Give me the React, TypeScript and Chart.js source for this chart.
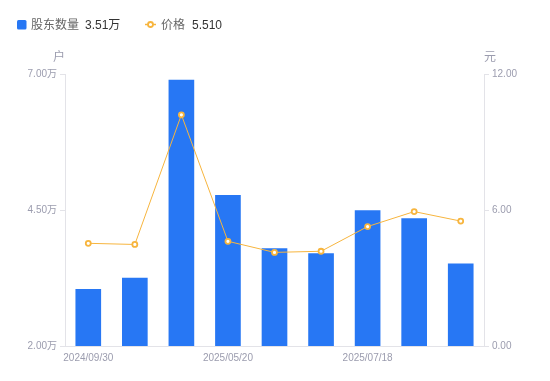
import React, { useEffect, useRef } from "react";
import { Chart, registerables } from "chart.js";

Chart.register(...registerables);

const categories = [
  "2024/09/30",
  "2024/12/31",
  "2025/03/31",
  "2025/05/20",
  "2025/06/10",
  "2025/06/30",
  "2025/07/18",
  "2025/08/10",
  "2025/08/31",
];
const holders = [3.04, 3.25, 6.89, 4.77, 3.79, 3.7, 4.49, 4.34, 3.51];
const prices = [4.53, 4.48, 10.2, 4.62, 4.13, 4.18, 5.27, 5.93, 5.51];
const leftTicks = [2, 4.5, 7];
const rightTicks = [0, 6, 12];

const FONT = '"Liberation Sans", "Noto Sans CJK SC", sans-serif';
const BLUE = "#2777F4";
const ORANGE = "#F7B53E";
const TICK_COLOR = "#9b9cae";
const AXIS_COLOR = "#e3e3e8";

const overlay = {
  id: "overlay",
  afterDraw(chart: any) {
    const ctx = chart.ctx;
    ctx.save();
    ctx.textBaseline = "middle";
    ctx.textAlign = "left";
    ctx.font = `12px ${FONT}`;
    const y = 24.5;
    const ty = 25.5;
    ctx.fillStyle = BLUE;
    ctx.beginPath();
    (ctx as any).roundRect ? (ctx as any).roundRect(17, 20, 9.5, 9.5, 1.5) : ctx.rect(17, 20, 9.5, 9.5);
    ctx.fill();
    ctx.fillStyle = "#666";
    ctx.fillText("股东数量", 31, ty);
    ctx.fillStyle = "#333";
    ctx.fillText(holders[holders.length - 1].toFixed(2) + "万", 85, ty);
    ctx.strokeStyle = ORANGE;
    ctx.lineWidth = 1.5;
    ctx.beginPath();
    ctx.moveTo(145, y);
    ctx.lineTo(156, y);
    ctx.stroke();
    ctx.beginPath();
    ctx.arc(150.5, y, 2.5, 0, Math.PI * 2);
    ctx.fillStyle = "#fff";
    ctx.fill();
    ctx.lineWidth = 1.8;
    ctx.stroke();
    ctx.fillStyle = "#666";
    ctx.fillText("价格", 161, ty);
    ctx.fillStyle = "#333";
    ctx.fillText(prices[prices.length - 1].toFixed(3), 192, ty);
    const area = chart.chartArea;
    ctx.font = `12px ${FONT}`;
    ctx.fillStyle = TICK_COLOR;
    ctx.textAlign = "center";
    ctx.fillText("户", area.left - 6, 58);
    ctx.fillText("元", area.right + 6, 58);
    ctx.restore();
  },
};

export default function App() {
  const ref = useRef<HTMLCanvasElement>(null);
  useEffect(() => {
    if (!ref.current) return;
    const chart = new Chart(ref.current, {
      type: "bar",
      data: {
        labels: categories,
        datasets: [
          {
            type: "line",
            label: "价格",
            data: prices,
            yAxisID: "y1",
            borderColor: ORANGE,
            borderWidth: 1,
            pointRadius: 2.5,
            pointBorderWidth: 1.8,
            pointBackgroundColor: "#fff",
            pointBorderColor: ORANGE,
            tension: 0,
            order: 0,
          } as any,
          {
            type: "bar",
            label: "股东数量",
            data: holders,
            yAxisID: "y",
            backgroundColor: BLUE,
            barThickness: 25,
            order: 1,
          } as any,
        ],
      },
      options: {
        animation: false,
        responsive: true,
        maintainAspectRatio: false,
        layout: { padding: { top: 74, left: 0, right: 0, bottom: 0 } },
        plugins: { legend: { display: false }, tooltip: { enabled: false } },
        scales: {
          x: {
            offset: true,
            grid: { display: false, drawTicks: false },
            border: { display: true, color: AXIS_COLOR },
            ticks: {
              autoSkip: false,
              maxRotation: 0,
              padding: 6,
              color: TICK_COLOR,
              font: { size: 10, family: FONT },
              callback: (_v: any, i: number) => (i % 3 === 0 ? categories[i] : ""),
            },
            afterFit: (s: any) => {
              s.height = 35;
            },
          },
          y: {
            position: "left",
            min: 2,
            max: 7,
            afterBuildTicks: (s: any) => {
              s.ticks = leftTicks.map((v) => ({ value: v }));
            },
            grid: { drawOnChartArea: false, drawTicks: true, tickLength: 5, color: AXIS_COLOR },
            border: { display: true, color: AXIS_COLOR },
            ticks: {
              padding: 3,
              color: TICK_COLOR,
              font: { size: 10, family: FONT },
              callback: (v: any) => Number(v).toFixed(2) + "万",
            },
            afterFit: (s: any) => {
              s.width = 65;
            },
          },
          y1: {
            position: "right",
            min: 0,
            max: 12,
            afterBuildTicks: (s: any) => {
              s.ticks = rightTicks.map((v) => ({ value: v }));
            },
            grid: { drawOnChartArea: false, drawTicks: true, tickLength: 5, color: AXIS_COLOR },
            border: { display: true, color: AXIS_COLOR },
            ticks: {
              padding: 3,
              color: TICK_COLOR,
              font: { size: 10, family: FONT },
              callback: (v: any) => Number(v).toFixed(2),
            },
            afterFit: (s: any) => {
              s.width = 66;
            },
          },
        },
      },
      plugins: [overlay],
    });
    return () => chart.destroy();
  }, []);
  return (
    <div style={{ position: "absolute", left: 0, top: 0, width: 550, height: 381 }}>
      <canvas ref={ref} />
    </div>
  );
}
